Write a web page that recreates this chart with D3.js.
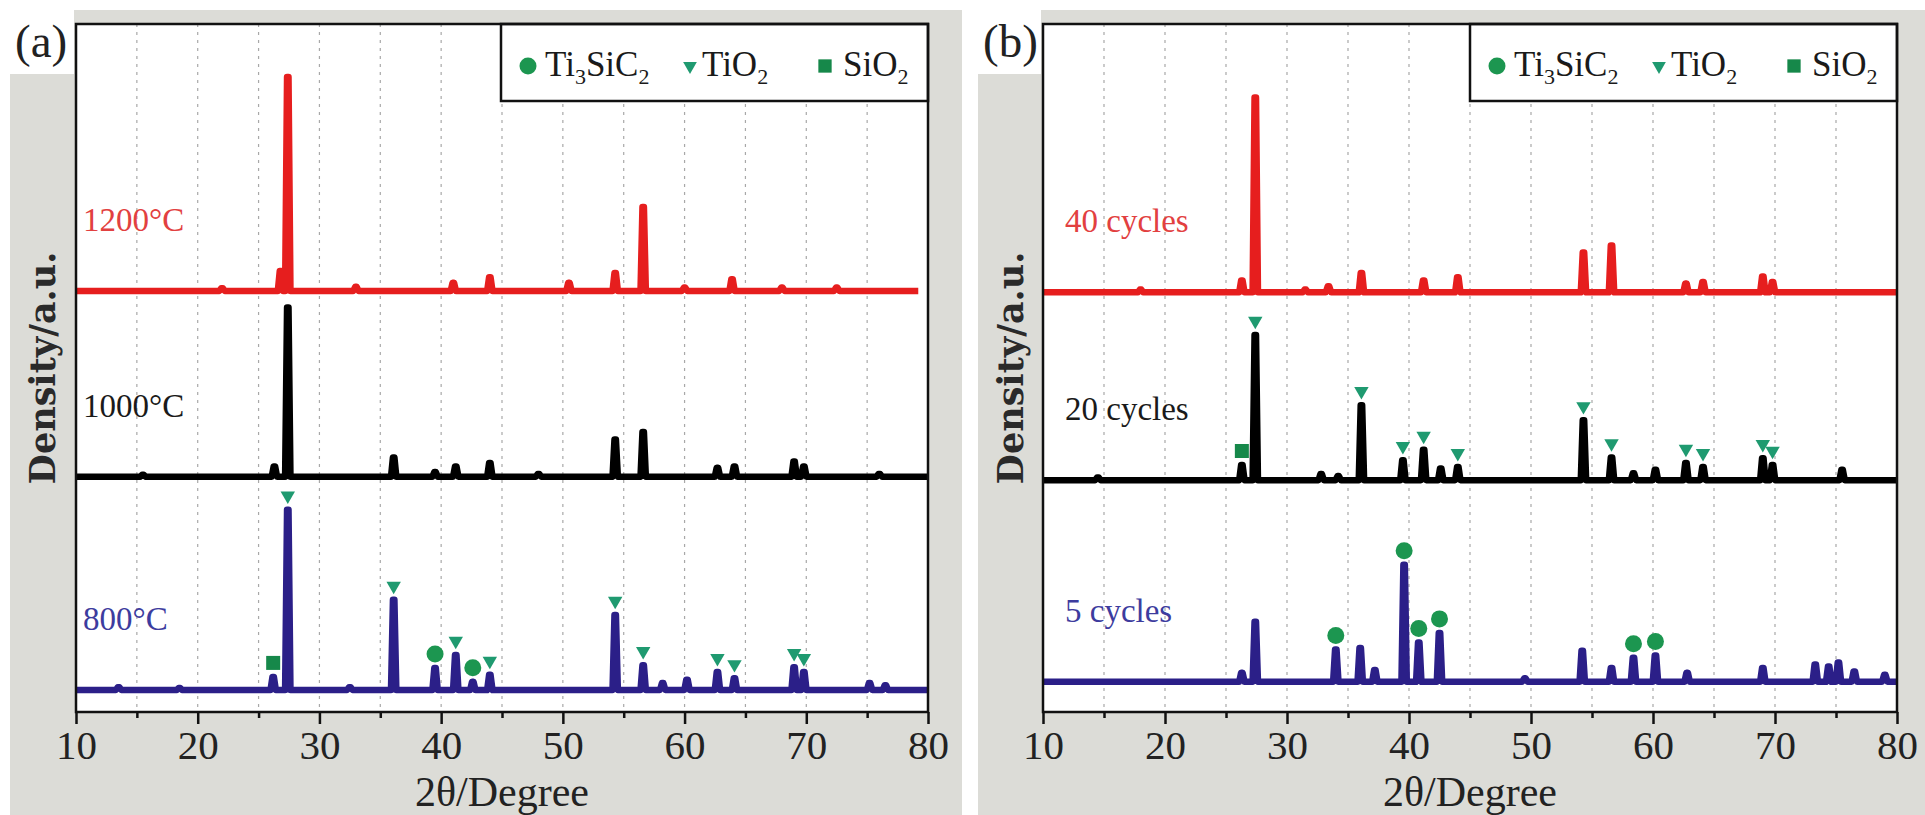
<!DOCTYPE html>
<html>
<head>
<meta charset="utf-8">
<script src="https://cdn.jsdelivr.net/npm/d3@7"></script>
<style>
  html, body { margin: 0; padding: 0; background: #ffffff; }
  svg { display: block; }
</style>
</head>
<body>
<svg id="chart" width="1925" height="815"></svg>
<script>
// ---------------- DATA ----------------
const xDomain = [10, 80];
const xTickLabels = [10, 20, 30, 40, 50, 60, 70, 80];
const xMinorTicks = [15, 25, 35, 45, 55, 65, 75];
const gridValues = [15, 20, 25, 30, 35, 40, 45, 50, 55, 60, 65, 70, 75];
const yDomain = [0, 1000];           // intensity, a.u.

const phases = ["Ti3SiC2", "TiO2", "SiO2"];

// Panel (a): oxidation temperature
const aSeriesNames = ["800°C", "1000°C", "1200°C"];
const aOffsets = [32, 342, 612];      // stacking offsets, a.u.
const aEnds = [80, 80, 79.2];         // last 2θ of each scan
// peaks: [2θ, intensity above own baseline]
const a800Peaks = [
  [13.5, 4], [18.5, 3], [26.2, 19], [27.4, 262], [32.5, 4], [36.1, 131], [39.5, 32],
  [41.2, 51], [42.6, 12], [44.0, 22], [54.3, 109], [56.6, 36], [58.2, 10], [60.2, 15],
  [62.7, 26], [64.1, 17], [69.0, 33], [69.8, 26], [75.2, 10], [76.5, 7]
];
const a1000Peaks = [
  [15.5, 3], [26.3, 15], [27.4, 246], [36.1, 28], [39.5, 7], [41.2, 15], [44.0, 20],
  [48.0, 4], [54.3, 54], [56.6, 65], [62.7, 13], [64.1, 15], [69.0, 22], [69.8, 15],
  [76.0, 4]
];
const a1200Peaks = [
  [22.0, 4], [26.8, 29], [27.4, 311], [33.0, 6], [41.0, 12], [44.0, 20], [50.5, 12],
  [54.3, 26], [56.6, 122], [60.0, 5], [63.9, 17], [68.0, 5], [72.5, 5]
];
// phase markers: [2θ, phase] placed above the 800°C peaks
const a800Markers = [
  [26.2, "SiO2"], [27.4, "TiO2"], [36.1, "TiO2"], [39.5, "Ti3SiC2"], [41.2, "TiO2"],
  [42.6, "Ti3SiC2"], [44.0, "TiO2"], [54.3, "TiO2"], [56.6, "TiO2"], [62.7, "TiO2"],
  [64.1, "TiO2"], [69.0, "TiO2"], [69.8, "TiO2"]
];

// Panel (b): thermal cycles
const bSeriesNames = ["5 cycles", "20 cycles", "40 cycles"];
const bOffsets = [44, 337, 610];
const bEnds = [80, 80, 80];
const b5Peaks = [
  [26.3, 13], [27.4, 87], [34.0, 47], [36.0, 49], [37.2, 17], [39.6, 170],
  [40.8, 57], [42.5, 71], [49.5, 5], [54.2, 45], [56.6, 20], [58.4, 35], [60.2, 38],
  [62.8, 13], [69.0, 20], [73.3, 25], [74.4, 22], [75.2, 28], [76.5, 15], [79.0, 10]
];
const b20Peaks = [
  [14.5, 4], [26.3, 22], [27.4, 211], [32.8, 9], [34.2, 6], [36.1, 109], [39.5, 29],
  [41.2, 44], [42.6, 17], [44.0, 19], [54.3, 87], [56.6, 33], [58.4, 10], [60.2, 15],
  [62.7, 25], [64.1, 19], [69.0, 32], [69.8, 22], [75.5, 15]
];
const b40Peaks = [
  [18.0, 4], [26.3, 17], [27.4, 283], [31.5, 4], [33.4, 9], [36.1, 28], [41.2, 17],
  [44.0, 22], [54.3, 58], [56.6, 68], [62.7, 13], [64.1, 15], [69.0, 23], [69.8, 15]
];
const b5Markers = [
  [34.0, "Ti3SiC2"], [39.6, "Ti3SiC2"], [40.8, "Ti3SiC2"], [42.5, "Ti3SiC2"],
  [58.4, "Ti3SiC2"], [60.2, "Ti3SiC2"]
];
const b20Markers = [
  [26.3, "SiO2"], [27.4, "TiO2"], [36.1, "TiO2"], [39.5, "TiO2"], [41.2, "TiO2"],
  [44.0, "TiO2"], [54.3, "TiO2"], [56.6, "TiO2"], [62.7, "TiO2"], [64.1, "TiO2"],
  [69.0, "TiO2"], [69.8, "TiO2"]
];

// ---------------- STYLE / LAYOUT ----------------
const seriesColors = ["#2b1f88", "#000000", "#e61e1e"];
const labelColors  = ["#3d3c9e", "#1a1a1a", "#e24040"];
const phaseColors = { Ti3SiC2: "#1c9650", TiO2: "#1f9a70", SiO2: "#16884a" };
const GRAY = "#dcdcd7";
const FRAME_TOP = 24, FRAME_BOTTOM = 712;
const SERIF = "'Liberation Serif', Tinos, 'Times New Roman', 'DejaVu Serif', serif";

const panels = [
  { tag: "(a)", gx: 10, gw: 952, L: 76, R: 928, labelDx: 7,
    names: aSeriesNames, offsets: aOffsets, ends: aEnds,
    peaks: [a800Peaks, a1000Peaks, a1200Peaks],
    markers: [a800Markers, [], []] },
  { tag: "(b)", gx: 978, gw: 947, L: 1043, R: 1897, labelDx: 22,
    names: bSeriesNames, offsets: bOffsets, ends: bEnds,
    peaks: [b5Peaks, b20Peaks, b40Peaks],
    markers: [b5Markers, b20Markers, []] }
];

const svg = d3.select("#chart");

function drawMarker(g, phase, cx, cy, scale) {
  const c = phaseColors[phase];
  const s = scale || 1;
  if (phase === "Ti3SiC2") {
    g.append("circle").attr("cx", cx).attr("cy", cy).attr("r", 8.5 * s).attr("fill", c);
  } else if (phase === "TiO2") {
    g.append("path")
      .attr("d", d3.symbol().type(d3.symbolTriangle).size(90 * s * s)())
      .attr("transform", `translate(${cx},${cy}) rotate(180)`)
      .attr("fill", c);
  } else {
    const w = 14 * s;
    g.append("rect").attr("x", cx - w / 2).attr("y", cy - w / 2)
      .attr("width", w).attr("height", w).attr("fill", c);
  }
}

function phaseText(g, phase, x, y) {
  const t = g.append("text").attr("x", x).attr("y", y)
    .style("font-family", SERIF).attr("font-size", 35).attr("fill", "#1a1a1a");
  const parts = phase === "Ti3SiC2"
    ? [["Ti", 0], ["3", 1], ["SiC", 0], ["2", 1]]
    : phase === "TiO2" ? [["TiO", 0], ["2", 1]] : [["SiO", 0], ["2", 1]];
  let cur = 0;
  parts.forEach(([s, sub]) => {
    const dy = (sub ? 8 : 0) - cur;
    cur = sub ? 8 : 0;
    t.append("tspan").attr("dy", dy).attr("font-size", sub ? 22 : 35).text(s);
  });
}

panels.forEach(p => {
  const g = svg.append("g");
  // gray panel background
  g.append("rect").attr("x", p.gx).attr("y", 10).attr("width", p.gw).attr("height", 815 - 10)
    .attr("fill", GRAY);
  // tag box
  g.append("rect").attr("x", p.gx).attr("y", 10).attr("width", p.L - p.gx - 2).attr("height", 64)
    .attr("fill", "#ffffff");
  g.append("text").attr("x", p.gx + 5).attr("y", 57)
    .style("font-family", SERIF).attr("font-size", 47).attr("fill", "#222")
    .text(p.tag);

  const x = d3.scaleLinear().domain(xDomain).range([p.L, p.R]);
  const y = d3.scaleLinear().domain(yDomain).range([FRAME_BOTTOM, FRAME_TOP]);

  // plot area
  g.append("rect").attr("x", p.L).attr("y", FRAME_TOP).attr("width", p.R - p.L)
    .attr("height", FRAME_BOTTOM - FRAME_TOP).attr("fill", "#ffffff");

  // grid
  g.append("g").selectAll("line").data(gridValues).join("line")
    .attr("x1", d => x(d)).attr("x2", d => x(d))
    .attr("y1", FRAME_TOP).attr("y2", FRAME_BOTTOM)
    .attr("stroke", "#a8a8a8").attr("stroke-width", 1.2).attr("stroke-dasharray", "3,5");

  // traces
  const line = d3.line().x(d => x(d[0])).y(d => y(d[1]));
  p.peaks.forEach((pk, i) => {
    const off = p.offsets[i];
    const sorted = pk.slice().sort((a, b) => a[0] - b[0]);
    const pts = [[xDomain[0], off]];
    sorted.forEach(([pos, h]) => {
      pts.push([pos - 0.22, off], [pos - 0.06, off + h], [pos + 0.06, off + h], [pos + 0.22, off]);
    });
    pts.push([p.ends[i], off]);
    g.append("path").attr("d", line(pts)).attr("fill", "none")
      .attr("stroke", seriesColors[i]).attr("stroke-width", 6.5)
      .attr("stroke-linejoin", "round").attr("stroke-linecap", "butt");

    // sample label
    g.append("text").attr("x", p.L + p.labelDx).attr("y", y(off) - 60)
      .style("font-family", SERIF).attr("font-size", 33).attr("fill", labelColors[i])
      .text(p.names[i]);

    // phase markers
    p.markers[i].forEach(([pos, phase]) => {
      const peak = pk.find(d => d[0] === pos);
      drawMarker(g, phase, x(pos), y(off + peak[1]) - 14);
    });
  });

  // legend
  g.append("rect").attr("x", p.R - 427).attr("y", FRAME_TOP).attr("width", 427).attr("height", 77)
    .attr("fill", "#ffffff").attr("stroke", "#111").attr("stroke-width", 2.5);
  const legendX = [[p.R - 400, p.R - 383], [p.R - 238, p.R - 226], [p.R - 103, p.R - 85]];
  phases.forEach((ph, k) => {
    drawMarker(g, ph, legendX[k][0], 66, ph === "Ti3SiC2" ? 1 : 0.95);
    phaseText(g, ph, legendX[k][1], 76);
  });

  // frame
  g.append("rect").attr("x", p.L).attr("y", FRAME_TOP).attr("width", p.R - p.L)
    .attr("height", FRAME_BOTTOM - FRAME_TOP).attr("fill", "none")
    .attr("stroke", "#111").attr("stroke-width", 2.5);

  // axes
  const ax = g.append("g").attr("transform", `translate(0,${FRAME_BOTTOM})`)
    .call(d3.axisBottom(x).tickValues(xTickLabels).tickSize(12).tickPadding(6).tickFormat(d3.format("d")));
  ax.select(".domain").remove();
  ax.selectAll(".tick line").attr("stroke", "#111").attr("stroke-width", 2.5);
  ax.selectAll(".tick text").style("font-family", SERIF).attr("font-size", 41).attr("fill", "#222");
  const axm = g.append("g").attr("transform", `translate(0,${FRAME_BOTTOM})`)
    .call(d3.axisBottom(x).tickValues(xMinorTicks).tickSize(6).tickFormat(""));
  axm.select(".domain").remove();
  axm.selectAll(".tick line").attr("stroke", "#111").attr("stroke-width", 2.5);

  // axis titles
  g.append("text").attr("x", (p.L + p.R) / 2).attr("y", 806).attr("text-anchor", "middle")
    .style("font-family", SERIF).attr("font-size", 42).attr("fill", "#222")
    .text("2θ/Degree");
  g.append("text").attr("transform", `translate(${p.gx + 45},${(FRAME_TOP + FRAME_BOTTOM) / 2}) rotate(-90)`)
    .attr("text-anchor", "middle")
    .style("font-family", "'DejaVu Serif', serif").attr("font-size", 35).attr("font-weight", "bold")
    .attr("fill", "#2a2a2a")
    .text("Density/a.u.");
});
</script>
</body>
</html>
